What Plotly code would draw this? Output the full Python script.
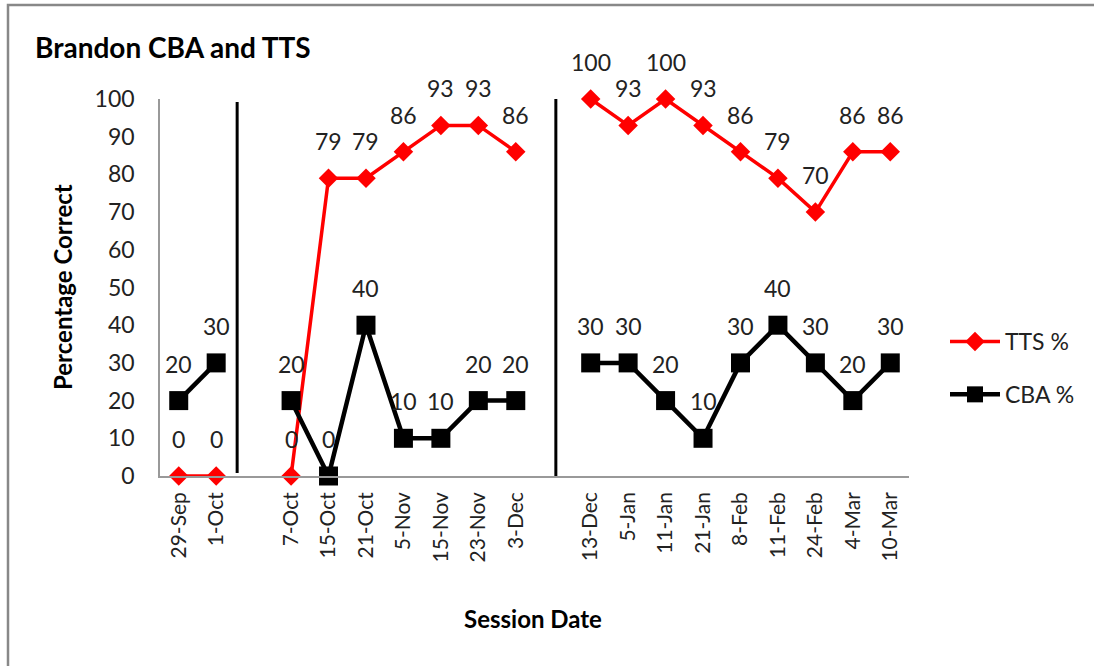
import plotly.graph_objects as go

# ---- data ----
dates = ["29-Sep", "1-Oct", "", "7-Oct", "15-Oct", "21-Oct", "5-Nov", "15-Nov",
         "23-Nov", "3-Dec", "", "13-Dec", "5-Jan", "11-Jan", "21-Jan", "8-Feb",
         "11-Feb", "24-Feb", "4-Mar", "10-Mar"]
tts = [0, 0, None, 0, 79, 79, 86, 93, 93, 86, None,
       100, 93, 100, 93, 86, 79, 70, 86, 86]
cba = [20, 30, None, 20, 0, 40, 10, 10, 20, 20, None,
       30, 30, 20, 10, 30, 40, 30, 20, 30]
phase_breaks = [1.56, 10.07]

FONT = "Lato"
W, H = 1094, 666
L, R, T, B = 160, 909, 99, 476

xs = list(range(len(dates)))
tickvals = [i for i, d in enumerate(dates) if d]
ticktext = [d for d in dates if d]

fig = go.Figure()
fig.add_trace(go.Scatter(
    x=xs, y=tts, name="TTS %", mode="lines+markers",
    line=dict(color="#ff0000", width=3.5),
    marker=dict(symbol="diamond", size=15, color="#ff0000"),
    connectgaps=False, legendgroup="a"))
fig.add_trace(go.Scatter(
    x=xs, y=cba, name="CBA %", mode="lines+markers",
    line=dict(color="#000000", width=4.5),
    marker=dict(symbol="square", size=19, color="#000000"),
    connectgaps=False, legendgroup="b"))

annotations = []
for series in (tts, cba):
    for x, v in zip(xs, series):
        if v is None:
            continue
        annotations.append(dict(x=x, y=v, xref="x", yref="y", text=str(v),
                                showarrow=False, yshift=37,
                                font=dict(family=FONT, size=23, color="#222")))

annotations += [
    dict(text="<b>Percentage Correct</b>", xref="paper", yref="paper",
         x=(62 - L) / (R - L), y=(B - 287) / (B - T), textangle=-90,
         xanchor="center", yanchor="middle",
         showarrow=False, font=dict(family=FONT, size=24, color="#000")),
    dict(text="<b>Session Date</b>", xref="paper", yref="paper",
         x=(533 - L) / (R - L), y=(B - 618) / (B - T),
         xanchor="center", yanchor="middle",
         showarrow=False, font=dict(family=FONT, size=24, color="#000")),
    dict(text="<b>Brandon CBA and TTS</b>", xref="paper", yref="paper",
         x=(33 - L) / (R - L), y=(B - 47) / (B - T),
         xanchor="left", yanchor="middle",
         showarrow=False, font=dict(family=FONT, size=28, color="#000")),
]

shapes = []
for xb, (y0, y1) in zip(phase_breaks, [(0.8, 99.2), (-0.5, 100.6)]):
    shapes.append(dict(type="line", xref="x", yref="y", x0=xb, x1=xb,
                       y0=y0, y1=y1, line=dict(color="#000", width=3)))
# outer chart border
shapes.append(dict(type="rect", xref="paper", yref="paper",
                   x0=(8 - L) / (R - L), x1=(1200 - L) / (R - L),
                   y0=(B - 800) / (B - T), y1=(B - 5) / (B - T),
                   line=dict(color="#888", width=2.5)))

fig.update_layout(
    width=W, height=H,
    margin=dict(l=L, r=W - R, t=T, b=H - B, autoexpand=False),
    paper_bgcolor="white", plot_bgcolor="white",
    font=dict(family=FONT, size=23, color="#222"),
    showlegend=True,
    legend=dict(x=(945 - L) / (R - L), y=(B - 368) / (B - T),
                xanchor="left", yanchor="middle", tracegroupgap=20,
                itemwidth=50,
                font=dict(family=FONT, size=23, color="#222"),
                bgcolor="rgba(0,0,0,0)"),
    xaxis=dict(range=[-0.5, len(dates) - 0.5], tickmode="array",
               tickvals=tickvals, ticktext=ticktext, tickangle=-90,
               showgrid=False, zeroline=False, showline=True,
               linecolor="#999", linewidth=1.5, ticks="",
               ticklabelstandoff=6,
               tickfont=dict(family=FONT, size=21, color="#222")),
    yaxis=dict(range=[0, 100], dtick=10, showgrid=False, zeroline=False,
               showline=True, linecolor="#999", linewidth=1.5, ticks="",
               ticklabelstandoff=19,
               tickfont=dict(family=FONT, size=23, color="#222")),
    annotations=annotations, shapes=shapes,
)
fig.update_traces(cliponaxis=False)

fig.write_html("out.html")
